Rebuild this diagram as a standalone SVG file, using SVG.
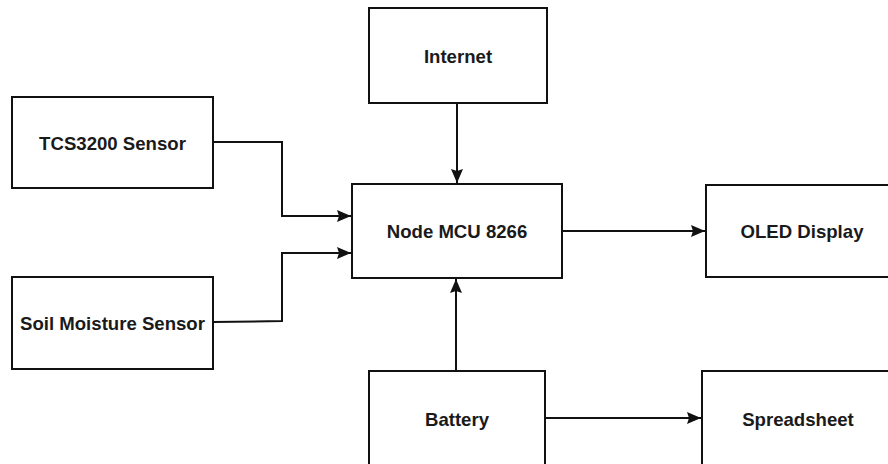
<svg xmlns="http://www.w3.org/2000/svg" width="888" height="464" viewBox="0 0 888 464">
<style>
.box{fill:#fff;stroke:#111;stroke-width:2}
.lbl{font-family:"Liberation Sans",Arial,sans-serif;font-size:18.6px;font-weight:bold;fill:#1a1a1a;text-anchor:middle;dominant-baseline:central}
.edge{fill:none;stroke:#111;stroke-width:2}
</style>
<defs>
<marker id="arr" viewBox="0 0 14 12" refX="14" refY="6" markerWidth="14" markerHeight="12" markerUnits="userSpaceOnUse" orient="auto">
<path d="M0,0 L14,6 L0,12 L2,6 Z" fill="#111"/>
</marker>
</defs>
<rect width="888" height="464" fill="#fff"/>
<g id="connectors">
<path class="edge" d="M213,142 H282 V216 H351" marker-end="url(#arr)"/>
<path class="edge" d="M213,322 L282,321 V253 H351" marker-end="url(#arr)"/>
<path class="edge" d="M457,103 V183" marker-end="url(#arr)"/>
<path class="edge" d="M562,231 H705" marker-end="url(#arr)"/>
<path class="edge" d="M456,371 V279" marker-end="url(#arr)"/>
<path class="edge" d="M545,418 H701" marker-end="url(#arr)"/>
</g>
<g id="tcs3200"><rect class="box" x="12" y="97" width="201" height="91"/><text class="lbl" x="112.5" y="143">TCS3200 Sensor</text></g>
<g id="soil"><rect class="box" x="12" y="277" width="201" height="92"/><text class="lbl" x="112.5" y="323">Soil Moisture Sensor</text></g>
<g id="internet"><rect class="box" x="369" y="8" width="178" height="95"/><text class="lbl" x="458" y="56">Internet</text></g>
<g id="nodemcu"><rect class="box" x="352" y="184" width="210" height="94"/><text class="lbl" x="457" y="231">Node MCU 8266</text></g>
<g id="oled"><rect class="box" x="706" y="185" width="194" height="92"/><text class="lbl" x="802" y="231">OLED Display</text></g>
<g id="battery"><rect class="box" x="369" y="371" width="176" height="100"/><text class="lbl" x="457" y="419">Battery</text></g>
<g id="spreadsheet"><rect class="box" x="702" y="371" width="194" height="100"/><text class="lbl" x="798" y="419">Spreadsheet</text></g>
</svg>
